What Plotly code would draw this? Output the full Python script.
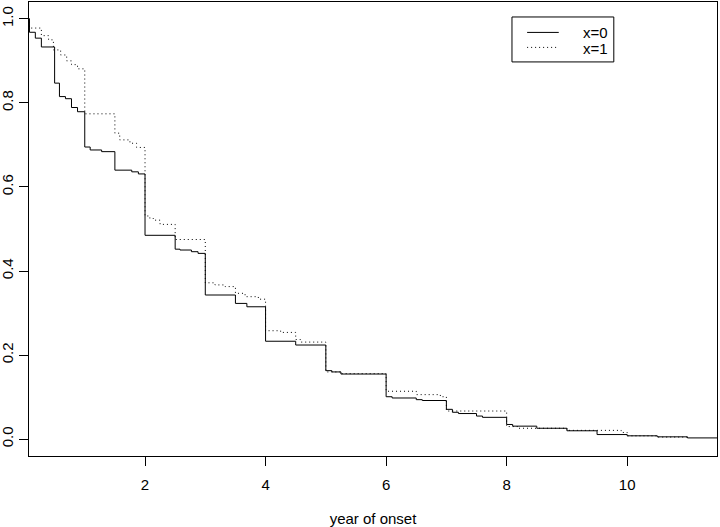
import plotly.graph_objects as go

# Step-function survival estimates
t_x0 = [0, 0.083, 0.18, 0.28, 0.5, 0.58, 0.68, 0.78, 0.88, 1.0, 1.09, 1.28, 1.5, 1.78, 1.89,
        2.0, 2.5, 2.58, 2.77, 2.88, 3.0, 3.5, 3.69, 4.0, 4.5, 5.0, 5.1, 5.25, 6.0, 6.1,
        6.5, 6.6, 7.0, 7.1, 7.2, 7.5, 7.6, 8.0, 8.1, 8.5, 9.0, 9.5, 10.0, 10.5, 11.0, 11.5]
s_x0 = [1.0, 0.968, 0.954, 0.933, 0.847, 0.815, 0.810, 0.789, 0.779, 0.695, 0.688, 0.684, 0.640, 0.636, 0.631,
        0.485, 0.452, 0.450, 0.446, 0.442, 0.343, 0.323, 0.315, 0.233, 0.224, 0.163, 0.160, 0.155, 0.101, 0.098,
        0.094, 0.092, 0.071, 0.064, 0.061, 0.055, 0.052, 0.035, 0.031, 0.026, 0.020, 0.011, 0.008, 0.0056, 0.003, 0.003]

t_x1 = [0, 0.083, 0.28, 0.40, 0.48, 0.6, 0.7, 0.78, 0.88, 1.0, 1.5, 1.58, 1.75, 1.86,
        2.0, 2.08, 2.14, 2.25, 2.5, 3.0, 3.16, 3.33, 3.5, 3.66, 3.88, 4.0, 4.25, 4.5, 4.58,
        5.0, 5.25, 6.0, 6.5, 6.9, 7.0, 8.0, 8.2, 9.0, 9.9, 10.0, 10.5, 11.0]
s_x1 = [1.0, 0.978, 0.960, 0.950, 0.926, 0.914, 0.900, 0.891, 0.881, 0.774, 0.728, 0.712, 0.704, 0.694,
        0.531, 0.525, 0.521, 0.511, 0.475, 0.372, 0.367, 0.363, 0.347, 0.339, 0.333, 0.258, 0.254, 0.237, 0.231,
        0.160, 0.156, 0.114, 0.106, 0.101, 0.067, 0.030, 0.026, 0.021, 0.016, 0.008, 0.005, 0.005]

series_names = ["x=0", "x=1"]
x_ticks = [2, 4, 6, 8, 10]
y_ticks = [0.0, 0.2, 0.4, 0.6, 0.8, 1.0]
y_tick_labels = ["0.0", "0.2", "0.4", "0.6", "0.8", "1.0"]

FONT = "Liberation Sans, Arial, Helvetica, sans-serif"
DOT = "1px,3px"

fig = go.Figure()
fig.add_trace(go.Scatter(x=t_x0, y=s_x0, mode="lines", name=series_names[0], showlegend=False,
                         line=dict(color="black", width=1, shape="hv")))
fig.add_trace(go.Scatter(x=t_x1, y=s_x1, mode="lines", name=series_names[1], showlegend=False,
                         line=dict(color="black", width=1, shape="hv", dash=DOT)))

# Legend drawn in paper coordinates (R-style boxed legend)
shapes = [
    dict(type="rect", xref="paper", yref="paper", x0=0.702, x1=0.850, y0=0.868, y1=0.967,
         line=dict(color="black", width=1), fillcolor="white", layer="above"),
    dict(type="line", xref="paper", yref="paper", x0=0.724, x1=0.770, y0=0.933, y1=0.933,
         line=dict(color="black", width=1)),
    dict(type="line", xref="paper", yref="paper", x0=0.724, x1=0.770, y0=0.900, y1=0.900,
         line=dict(color="black", width=1, dash=DOT)),
]
annotations = [
    dict(xref="paper", yref="paper", x=0.802, y=0.932, text=series_names[0], showarrow=False,
         xanchor="left", yanchor="middle", font=dict(size=15)),
    dict(xref="paper", yref="paper", x=0.802, y=0.898, text=series_names[1], showarrow=False,
         xanchor="left", yanchor="middle", font=dict(size=15)),
]

fig.update_layout(
    width=720, height=527,
    margin=dict(l=29, r=3, t=2, b=71),
    paper_bgcolor="white", plot_bgcolor="white",
    font=dict(family=FONT, size=15, color="black"),
    showlegend=False,
    shapes=shapes, annotations=annotations,
)
fig.update_xaxes(range=[0.075, 11.49], tickvals=x_ticks, ticks="outside", ticklen=9,
                 tickcolor="black", showline=True, linecolor="black", linewidth=1, mirror=True,
                 showgrid=False, zeroline=False, ticklabelstandoff=6, automargin=False,
                 tickfont=dict(size=15),
                 title=dict(text="year of onset", standoff=21, font=dict(size=15)))
fig.update_yaxes(range=[-0.04, 1.04], tickvals=y_ticks, ticktext=y_tick_labels, tickangle=-90,
                 ticks="outside", ticklen=9, tickcolor="black", showline=True, linecolor="black",
                 linewidth=1, mirror=True, showgrid=False, zeroline=False, automargin=False,
                 tickfont=dict(size=15))

fig.write_html("out.html", config={"displayModeBar": False},
               post_script="document.body.style.margin='0';document.body.style.overflow='hidden';")
